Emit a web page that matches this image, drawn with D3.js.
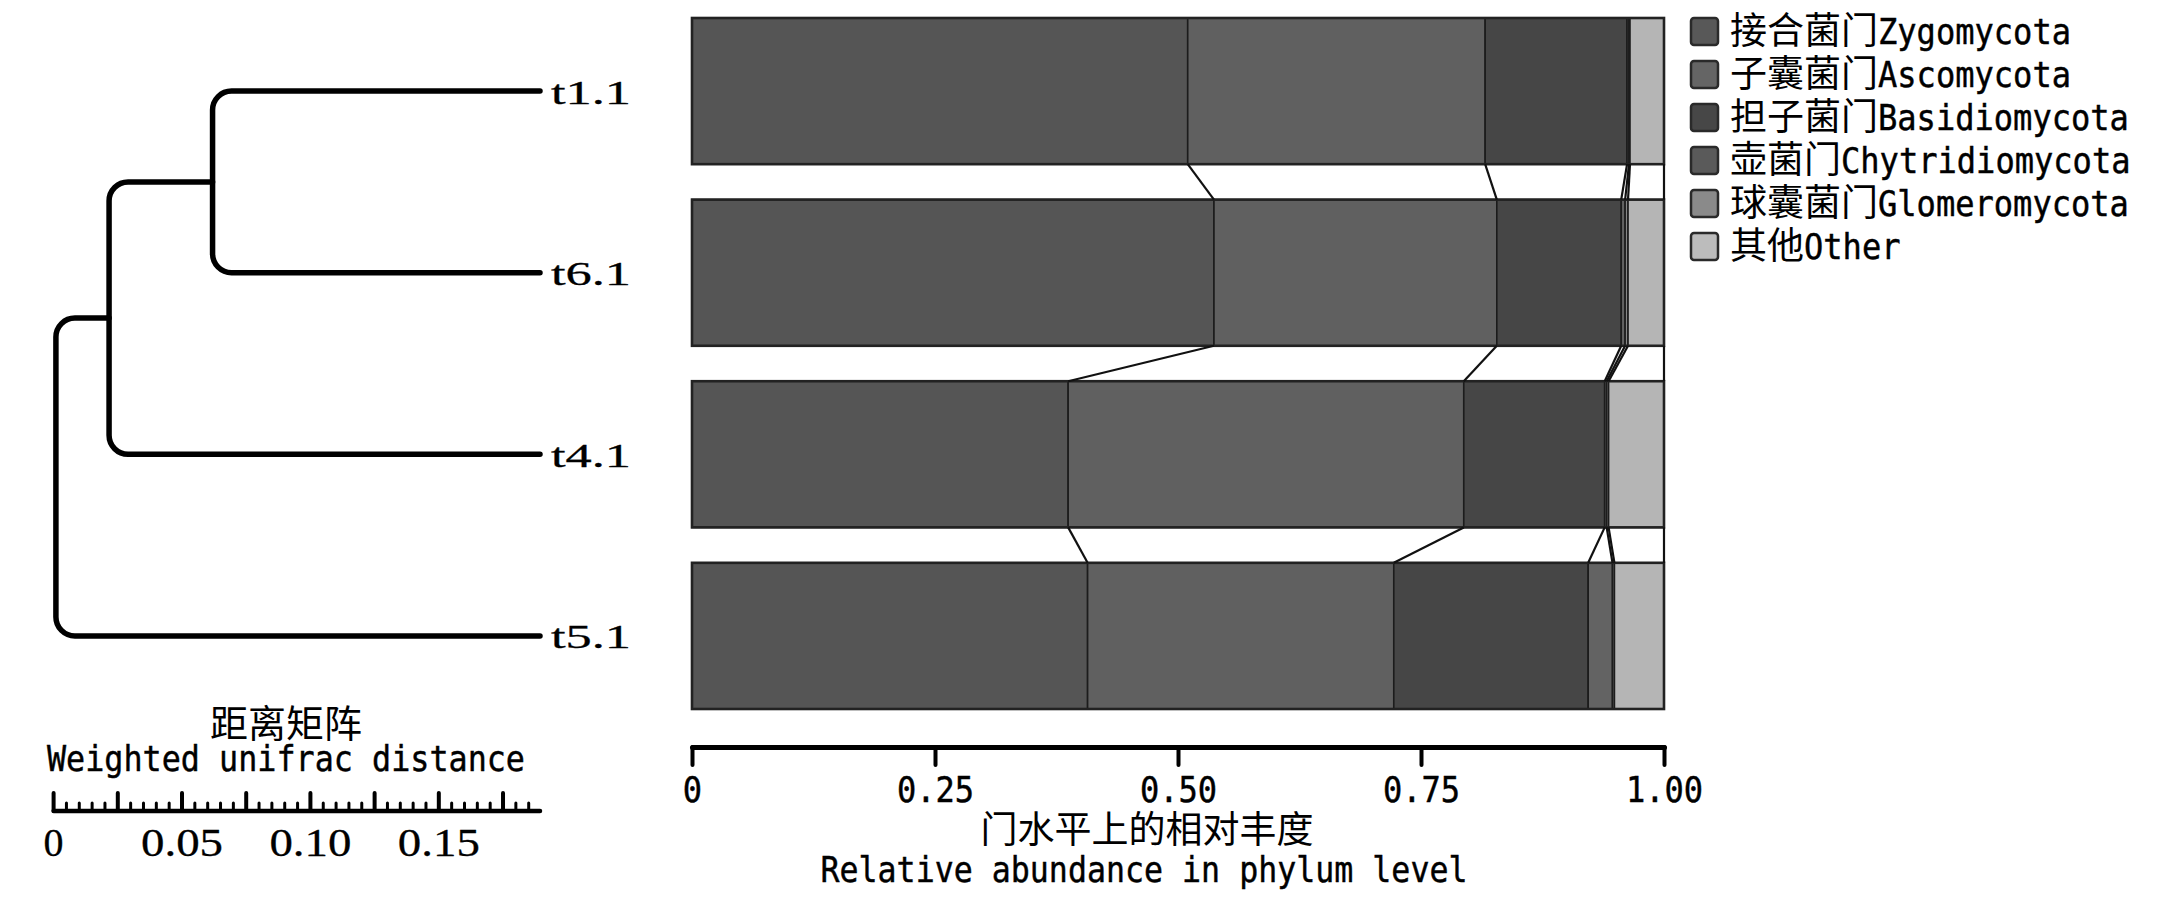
<!DOCTYPE html>
<html>
<head>
<meta charset="utf-8">
<script src="https://cdn.jsdelivr.net/npm/d3@7/dist/d3.min.js"></script>
<style>
  html, body { margin: 0; padding: 0; background: #fff; }
  svg { display: block; }
</style>
</head>
<body>
<script>
// ---------------- DATA ----------------
const samples = ["t1.1", "t6.1", "t4.1", "t5.1"];
const phylaCN = ["接合菌门", "子囊菌门", "担子菌门", "壶菌门", "球囊菌门", "其他"];
const phylaEN = ["Zygomycota", "Ascomycota", "Basidiomycota", "Chytridiomycota", "Glomeromycota", "Other"];
// relative abundance per sample (order of samples above)
const zygomycota      = [0.510, 0.537, 0.387, 0.407];
const ascomycota      = [0.306, 0.291, 0.407, 0.315];
const basidiomycota   = [0.146, 0.128, 0.145, 0.200];
const chytridiomycota = [0.002, 0.004, 0.002, 0.025];
const glomeromycota   = [0.001, 0.003, 0.002, 0.002];
const other           = [0.035, 0.037, 0.057, 0.051];
const abundanceTicks  = [0, 0.25, 0.50, 0.75, 1.00];
const abundanceTickLabels = ["0", "0.25", "0.50", "0.75", "1.00"];

// dendrogram (weighted unifrac distance, measured from root side)
const treeMerges = [
  { id: "B",    left: "t1.1", right: "t6.1", depth: 0.0619 },
  { id: "A",    left: "B",    right: "t4.1", depth: 0.0216 },
  { id: "root", left: "A",    right: "t5.1", depth: 0.0009 }
];
const leafDepth = 0.1894;
const distMajorStep = 0.025;
const distMinorStep = 0.005;
const distLabelValues = [0, 0.05, 0.10, 0.15];
const distLabels = ["0", "0.05", "0.10", "0.15"];

// ---------------- STYLE ----------------
const barColors    = ["#555555", "#606060", "#464646", "#636363", "#888888", "#b5b5b5"];
const swatchColors = ["#585858", "#656565", "#474747", "#5a5a5a", "#8a8a8a", "#bcbcbc"];
const CJK = "'Noto Sans CJK SC', sans-serif";
const MONO = "'DejaVu Sans Mono', monospace";
const SERIF = "'Liberation Serif', 'DejaVu Serif', serif";
const monoCharW = 19.3;

const W = 2180, H = 898;
const svg = d3.select("body").append("svg").attr("width", W).attr("height", H);
svg.append("rect").attr("width", W).attr("height", H).attr("fill", "#fff");

function monoText(sel) {
  return sel.attr("font-family", MONO).attr("fill", "#000")
    .attr("stroke", "#000").attr("stroke-width", 0.45)
    .attr("lengthAdjust", "spacingAndGlyphs");
}

// ---------------- SCALES ----------------
const y = d3.scaleBand().domain(samples).range([18, 709]).paddingInner(0.195).paddingOuter(0);
const x = d3.scaleLinear().domain([0, 1]).range([692, 1664]);
const color = d3.scaleOrdinal().domain(phylaEN).range(barColors);
const bw = y.bandwidth();

const seriesVals = [zygomycota, ascomycota, basidiomycota, chytridiomycota, glomeromycota, other];
const table = samples.map((s, i) => {
  const row = { sample: s };
  phylaEN.forEach((p, k) => row[p] = seriesVals[k][i]);
  return row;
});
const series = d3.stack().keys(phylaEN)(table);

// ---------------- BARS ----------------
const gBars = svg.append("g");
series.forEach(layer => {
  gBars.selectAll(null).data(layer).join("rect")
    .attr("x", d => x(d[0]))
    .attr("y", d => y(d.data.sample))
    .attr("width", d => Math.max(0, x(d[1]) - x(d[0])))
    .attr("height", bw)
    .attr("fill", color(layer.key))
    .attr("stroke", "#1c1c1c")
    .attr("stroke-width", 1.6);
});
gBars.selectAll(null).data(samples).join("rect")
  .attr("x", x(0)).attr("y", d => y(d))
  .attr("width", x(1) - x(0)).attr("height", bw)
  .attr("fill", "none").attr("stroke", "#222").attr("stroke-width", 2.6);

// connector lines between cumulative boundaries of consecutive bars
const gConn = svg.append("g");
series.forEach(layer => {
  for (let i = 0; i < samples.length - 1; i++) {
    gConn.append("line")
      .attr("x1", x(layer[i][1])).attr("y1", y(samples[i]) + bw)
      .attr("x2", x(layer[i + 1][1])).attr("y2", y(samples[i + 1]))
      .attr("stroke", "#111").attr("stroke-width", 2.2);
  }
});

// ---------------- BAR AXIS ----------------
const gAx = svg.append("g").attr("transform", "translate(0,747)")
  .call(d3.axisBottom(x).tickValues(abundanceTicks)
    .tickFormat((d, i) => abundanceTickLabels[i]).tickSize(18).tickSizeOuter(0));
gAx.select(".domain").attr("stroke", "#000").attr("stroke-width", 5).attr("stroke-linecap", "round");
gAx.selectAll(".tick line").attr("stroke", "#000").attr("stroke-width", 4).attr("stroke-linecap", "round");
gAx.selectAll(".tick text")
  .attr("y", 55).attr("dy", 0).attr("font-size", 35)
  .call(monoText)
  .attr("textLength", (d, i) => abundanceTickLabels[i].length * monoCharW);

svg.append("text").attr("x", 1147).attr("y", 843).attr("text-anchor", "middle")
  .attr("font-family", CJK).attr("font-size", 37).attr("fill", "#000")
  .text("门水平上的相对丰度");
svg.append("text").attr("x", 1144).attr("y", 882).attr("text-anchor", "middle")
  .attr("font-size", 36).call(monoText)
  .attr("textLength", 647)
  .text("Relative abundance in phylum level");

// ---------------- LEGEND ----------------
const gLeg = svg.append("g");
const cjkSize = 37;
phylaEN.forEach((p, i) => {
  const cy = 31.5 + i * 43;
  gLeg.append("rect").attr("x", 1691).attr("y", cy - 13.5).attr("width", 27).attr("height", 27)
    .attr("rx", 3).attr("fill", swatchColors[i]).attr("stroke", "#2a2a2a").attr("stroke-width", 2.5);
  gLeg.append("text").attr("x", 1730).attr("y", cy + 12.5)
    .attr("font-family", CJK).attr("font-size", cjkSize).attr("fill", "#000")
    .text(phylaCN[i]);
  gLeg.append("text").attr("x", 1730 + phylaCN[i].length * cjkSize).attr("y", cy + 12)
    .attr("font-size", 35).call(monoText)
    .attr("textLength", p.length * monoCharW)
    .text(p);
});

// ---------------- DENDROGRAM ----------------
const dx = d3.scaleLinear().domain([0, leafDepth]).range([53.6, 540]);
const pos = {};
samples.forEach(s => pos[s] = { x: dx(leafDepth), y: y(s) + bw / 2 });
treeMerges.forEach(m => {
  pos[m.id] = { x: dx(m.depth), y: (pos[m.left].y + pos[m.right].y) / 2 };
});
const r = 19;
const gTree = svg.append("g");
treeMerges.forEach(m => {
  const n = pos[m.id], a = pos[m.left], b = pos[m.right];
  const p = d3.path();
  p.moveTo(a.x, a.y);
  p.lineTo(n.x + r, a.y);
  p.arcTo(n.x, a.y, n.x, a.y + r, r);
  p.lineTo(n.x, b.y - r);
  p.arcTo(n.x, b.y, n.x + r, b.y, r);
  p.lineTo(b.x, b.y);
  gTree.append("path").attr("d", p.toString())
    .attr("fill", "none").attr("stroke", "#000").attr("stroke-width", 5.5)
    .attr("stroke-linecap", "round").attr("stroke-linejoin", "round");
});
gTree.selectAll(null).data(samples).join("text")
  .attr("x", 551).attr("y", d => pos[d].y + 12.5)
  .attr("font-family", SERIF).attr("font-size", 34).attr("fill", "#000")
  .attr("stroke", "#000").attr("stroke-width", 0.3)
  .attr("textLength", 80).attr("lengthAdjust", "spacingAndGlyphs")
  .text(d => d);

// ---------------- DISTANCE SCALE BAR ----------------
const sy = 811;
const gScale = svg.append("g");
gScale.append("line").attr("x1", dx(0)).attr("x2", dx(leafDepth)).attr("y1", sy).attr("y2", sy)
  .attr("stroke", "#000").attr("stroke-width", 4.5).attr("stroke-linecap", "round");
const nTicks = Math.floor(leafDepth / distMinorStep + 1e-6);
const tickVals = d3.range(0, nTicks + 1).map(k => k * distMinorStep);
const isMajor = d => { const q = d / distMajorStep; return Math.abs(q - Math.round(q)) < 1e-6; };
gScale.selectAll(null).data(tickVals).join("line")
  .attr("x1", d => dx(d)).attr("x2", d => dx(d))
  .attr("y1", sy)
  .attr("y2", d => isMajor(d) ? sy - 18 : sy - 8)
  .attr("stroke", "#000")
  .attr("stroke-width", d => isMajor(d) ? 4 : 3)
  .attr("stroke-linecap", "round");
gScale.selectAll(null).data(distLabelValues).join("text")
  .attr("x", d => dx(d)).attr("y", 856).attr("text-anchor", "middle")
  .attr("font-family", SERIF).attr("font-size", 40).attr("fill", "#000")
  .attr("stroke", "#000").attr("stroke-width", 0.3)
  .text((d, i) => distLabels[i])
  .each(function(d, i) {
    if (distLabels[i].length > 1) d3.select(this).attr("textLength", 82).attr("lengthAdjust", "spacingAndGlyphs");
  });
svg.append("text").attr("x", 286).attr("y", 737).attr("text-anchor", "middle")
  .attr("font-family", CJK).attr("font-size", 38).attr("fill", "#000")
  .text("距离矩阵");
svg.append("text").attr("x", 286).attr("y", 771).attr("text-anchor", "middle")
  .attr("font-size", 36).call(monoText)
  .attr("textLength", 478)
  .text("Weighted unifrac distance");
</script>
</body>
</html>
